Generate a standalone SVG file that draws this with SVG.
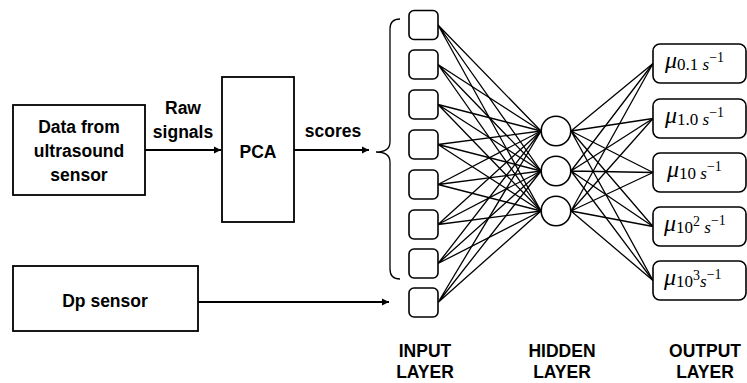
<svg xmlns="http://www.w3.org/2000/svg" width="747" height="383" viewBox="0 0 747 383">
<style>
.box{fill:#fff;stroke:#000;stroke-width:1.8}
.node{fill:#fff;stroke:#000;stroke-width:1.6}
.lbl{font-family:"Liberation Sans",Arial,sans-serif;font-weight:bold;font-size:17.5px;fill:#000;text-anchor:middle}
.mu{font-family:"Liberation Serif","DejaVu Serif",serif;font-size:24px;fill:#000}
.mu .it{font-style:italic}
.sub{font-size:17px}
.sup{font-size:14px}
.edge{stroke:#000;stroke-width:1.3;fill:none}
.arrow{stroke:#000;stroke-width:1.8;fill:none;marker-end:url(#ah)}
</style>
<defs>
<marker id="ah" viewBox="0 0 10 10" refX="10" refY="5" markerWidth="4" markerHeight="4" orient="auto" markerUnits="strokeWidth">
<path d="M0,0 L10,5 L0,10 z" fill="#000"/>
</marker>
</defs>
<rect width="747" height="383" fill="#fff"/>

<g id="connectors">
<line class="arrow" x1="145" y1="150" x2="221" y2="150"/>
<line class="arrow" x1="294" y1="150" x2="369" y2="150"/>
<line class="arrow" x1="198" y1="302" x2="389" y2="302"/>
<path class="edge" d="M400,19 Q390,19 390,29 L390,142 Q390,152 376,152 Q390,152 390,162 L390,269 Q390,279 400,279"/>
<g class="edge">
<path d="M438,25 L541,131 M438,25 L541,171 M438,25 L541,211"/>
<path d="M438,64.5 L541,131 M438,64.5 L541,171 M438,64.5 L541,211"/>
<path d="M438,104.5 L541,131 M438,104.5 L541,171 M438,104.5 L541,211"/>
<path d="M438,144.5 L541,131 M438,144.5 L541,171 M438,144.5 L541,211"/>
<path d="M438,184.5 L541,131 M438,184.5 L541,171 M438,184.5 L541,211"/>
<path d="M438,224.5 L541,131 M438,224.5 L541,171 M438,224.5 L541,211"/>
<path d="M438,263.5 L541,131 M438,263.5 L541,171 M438,263.5 L541,211"/>
<path d="M438,302.5 L541,131 M438,302.5 L541,171 M438,302.5 L541,211"/>
<path d="M571,131 L653,63.5 M571,131 L653,118.5 M571,131 L653,172.5 M571,131 L653,226.5 M571,131 L653,280.5"/>
<path d="M571,171 L653,63.5 M571,171 L653,118.5 M571,171 L653,172.5 M571,171 L653,226.5 M571,171 L653,280.5"/>
<path d="M571,211 L653,63.5 M571,211 L653,118.5 M571,211 L653,172.5 M571,211 L653,226.5 M571,211 L653,280.5"/>
</g>
</g>

<g id="data-sensor">
<rect class="box" x="13" y="105" width="132" height="90"/>
<text class="lbl" x="79" y="133">Data from</text>
<text class="lbl" x="79" y="157">ultrasound</text>
<text class="lbl" x="79" y="181">sensor</text>
</g>
<g id="raw-label">
<text class="lbl" x="183" y="114">Raw</text>
<text class="lbl" x="183" y="138">signals</text>
</g>
<g id="pca">
<rect class="box" x="222" y="77" width="72" height="145"/>
<text class="lbl" x="258" y="158">PCA</text>
</g>
<g id="scores-label">
<text class="lbl" x="333" y="137">scores</text>
</g>
<g id="dp-sensor">
<rect class="box" x="13" y="266" width="185" height="65"/>
<text class="lbl" x="105" y="307">Dp sensor</text>
</g>

<g id="input-layer">
<rect class="node" x="409" y="10.5" width="29" height="29" rx="5"/>
<rect class="node" x="409" y="50" width="29" height="29" rx="5"/>
<rect class="node" x="409" y="90" width="29" height="29" rx="5"/>
<rect class="node" x="409" y="130" width="29" height="29" rx="5"/>
<rect class="node" x="409" y="170" width="29" height="29" rx="5"/>
<rect class="node" x="409" y="210" width="29" height="29" rx="5"/>
<rect class="node" x="409" y="249" width="29" height="29" rx="5"/>
<rect class="node" x="409" y="288" width="29" height="29" rx="5"/>
</g>

<g id="hidden-layer">
<circle class="node" cx="556" cy="131" r="14.8"/>
<circle class="node" cx="556" cy="171" r="14.8"/>
<circle class="node" cx="556" cy="211" r="14.8"/>
</g>

<g id="output-1">
<rect class="node" x="653" y="44" width="93" height="39" rx="7"/>
<text class="mu" x="665" y="68"><tspan class="it">μ</tspan><tspan class="sub" dy="2">0.1 </tspan><tspan class="sub it">s</tspan><tspan class="sup" dy="-8">−1</tspan></text>
</g>
<g id="output-2">
<rect class="node" x="653" y="99" width="93" height="39" rx="7"/>
<text class="mu" x="665" y="123"><tspan class="it">μ</tspan><tspan class="sub" dy="2">1.0 </tspan><tspan class="sub it">s</tspan><tspan class="sup" dy="-8">−1</tspan></text>
</g>
<g id="output-3">
<rect class="node" x="653" y="153" width="93" height="39" rx="7"/>
<text class="mu" x="667" y="177"><tspan class="it">μ</tspan><tspan class="sub" dy="2">10 </tspan><tspan class="sub it">s</tspan><tspan class="sup" dy="-8">−1</tspan></text>
</g>
<g id="output-4">
<rect class="node" x="653" y="207" width="93" height="39" rx="7"/>
<text class="mu" x="664" y="231"><tspan class="it">μ</tspan><tspan class="sub" dy="2">10</tspan><tspan class="sup" dy="-7">2</tspan><tspan class="sub" dy="7"> </tspan><tspan class="sub it">s</tspan><tspan class="sup" dy="-8">−1</tspan></text>
</g>
<g id="output-5">
<rect class="node" x="653" y="261" width="93" height="39" rx="7"/>
<text class="mu" x="664" y="285"><tspan class="it">μ</tspan><tspan class="sub" dy="2">10</tspan><tspan class="sup" dy="-7">3</tspan><tspan class="sub it" dy="7">s</tspan><tspan class="sup" dy="-8">−1</tspan></text>
</g>

<g id="layer-labels">
<text class="lbl" x="425" y="357">INPUT</text>
<text class="lbl" x="425" y="378">LAYER</text>
<text class="lbl" x="562" y="357">HIDDEN</text>
<text class="lbl" x="562" y="378">LAYER</text>
<text class="lbl" x="705" y="357">OUTPUT</text>
<text class="lbl" x="705" y="378">LAYER</text>
</g>
</svg>
